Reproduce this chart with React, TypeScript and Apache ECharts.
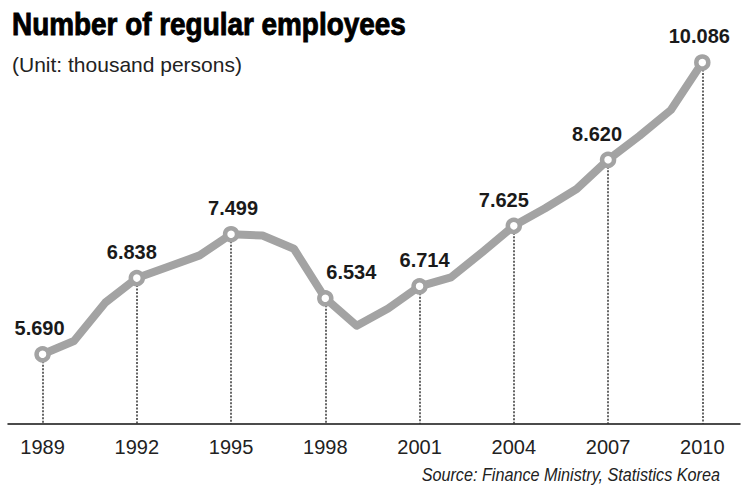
import React, { useEffect, useRef } from "react";
import * as echarts from "echarts";

const years = [
  1989, 1990, 1991, 1992, 1993, 1994, 1995, 1996, 1997, 1998, 1999,
  2000, 2001, 2002, 2003, 2004, 2005, 2006, 2007, 2008, 2009, 2010,
];
const values = [
  5.69, 5.89, 6.47, 6.838, 7.01, 7.18, 7.499, 7.48, 7.28, 6.534, 6.12,
  6.38, 6.714, 6.85, 7.23, 7.625, 7.89, 8.18, 8.62, 8.98, 9.37, 10.086,
];
const labeledYears = [1989, 1992, 1995, 1998, 2001, 2004, 2007, 2010];
const tickLabels = ["1989", "1992", "1995", "1998", "2001", "2004", "2007", "2010"];

const titleText = "Number of regular employees";
const subtitleText = "(Unit: thousand persons)";
const sourceText = "Source: Finance Ministry, Statistics Korea";

// label horizontal nudges (style only)
const labelDx = [-3, -5, 2, 26, 5, -10, -11, -3];

const Y_MIN = 4.64;
const Y_MAX = 10.5;

export default function App() {
  const ref = useRef<HTMLDivElement>(null);

  useEffect(() => {
    document.body.style.margin = "0";
    if (!ref.current) return;
    const chart = echarts.init(ref.current, null, { renderer: "svg" });

    const lineData = years.map((y, i) => {
      const li = labeledYears.indexOf(y);
      if (li < 0) {
        return { value: [y, values[i]], symbol: "none", label: { show: false } };
      }
      return {
        value: [y, values[i]],
        symbol: "circle",
        label: {
          show: true,
          position: "top",
          distance: 8,
          offset: [labelDx[li], 0],
          formatter: () => values[i].toFixed(3),
        },
      };
    });

    const dropData = labeledYears.map((y) => {
      const v = values[years.indexOf(y)];
      return { coords: [[y, v], [y, Y_MIN]] };
    });

    chart.setOption({
      animation: false,
      backgroundColor: "#ffffff",
      grid: { left: 8, right: 10, top: 35, bottom: 71 },
      xAxis: {
        type: "value",
        min: 1987.9,
        max: 2011.2,
        splitLine: { show: false },
        axisTick: { show: false },
        axisLine: { show: true, lineStyle: { color: "#111", width: 1.5 } },
        axisLabel: {
          customValues: labeledYears,
          formatter: (v: number) => tickLabels[labeledYears.indexOf(v)] ?? "",
          margin: 13,
          color: "#222",
          fontFamily: "'Liberation Sans Narrow', 'Liberation Sans', sans-serif",
          fontSize: 20,
        },
      },
      yAxis: {
        type: "value",
        min: Y_MIN,
        max: Y_MAX,
        show: false,
        splitLine: { show: false },
      },
      series: [
        {
          type: "lines",
          coordinateSystem: "cartesian2d",
          z: 1,
          silent: true,
          lineStyle: { color: "#333", width: 1.5, type: [2, 1.5], opacity: 1 },
          data: dropData,
        },
        {
          type: "line",
          z: 3,
          data: lineData,
          symbolSize: 12,
          lineStyle: { color: "#a3a3a3", width: 8, join: "round", cap: "round" },
          itemStyle: { color: "#ffffff", borderColor: "#a3a3a3", borderWidth: 4.5 },
          label: {
            color: "#1a1a1a",
            fontFamily: "'Liberation Sans', Arial, sans-serif",
            fontWeight: "bold",
            fontSize: 20,
          },
        },
      ],
      graphic: [
        {
          type: "text",
          x: 12,
          y: 24,
          scaleX: 0.9,
          style: {
            text: titleText,
            fill: "#000",
            font: "bold 31px 'Liberation Sans', Arial, sans-serif",
            stroke: "#000",
            lineWidth: 0.9,
            verticalAlign: "middle",
          },
        },
        {
          type: "text",
          x: 12,
          y: 64,
          style: {
            text: subtitleText,
            fill: "#222",
            font: "21px 'Liberation Sans', Arial, sans-serif",
            verticalAlign: "middle",
          },
        },
        {
          type: "text",
          x: 720,
          y: 475,
          scaleX: 0.9,
          style: {
            text: sourceText,
            fill: "#222",
            align: "right",
            verticalAlign: "middle",
            font: "italic 18px 'Liberation Sans', sans-serif",
          },
        },
      ],
    });

    return () => chart.dispose();
  }, []);

  return <div ref={ref} style={{ width: 750, height: 495 }} />;
}
